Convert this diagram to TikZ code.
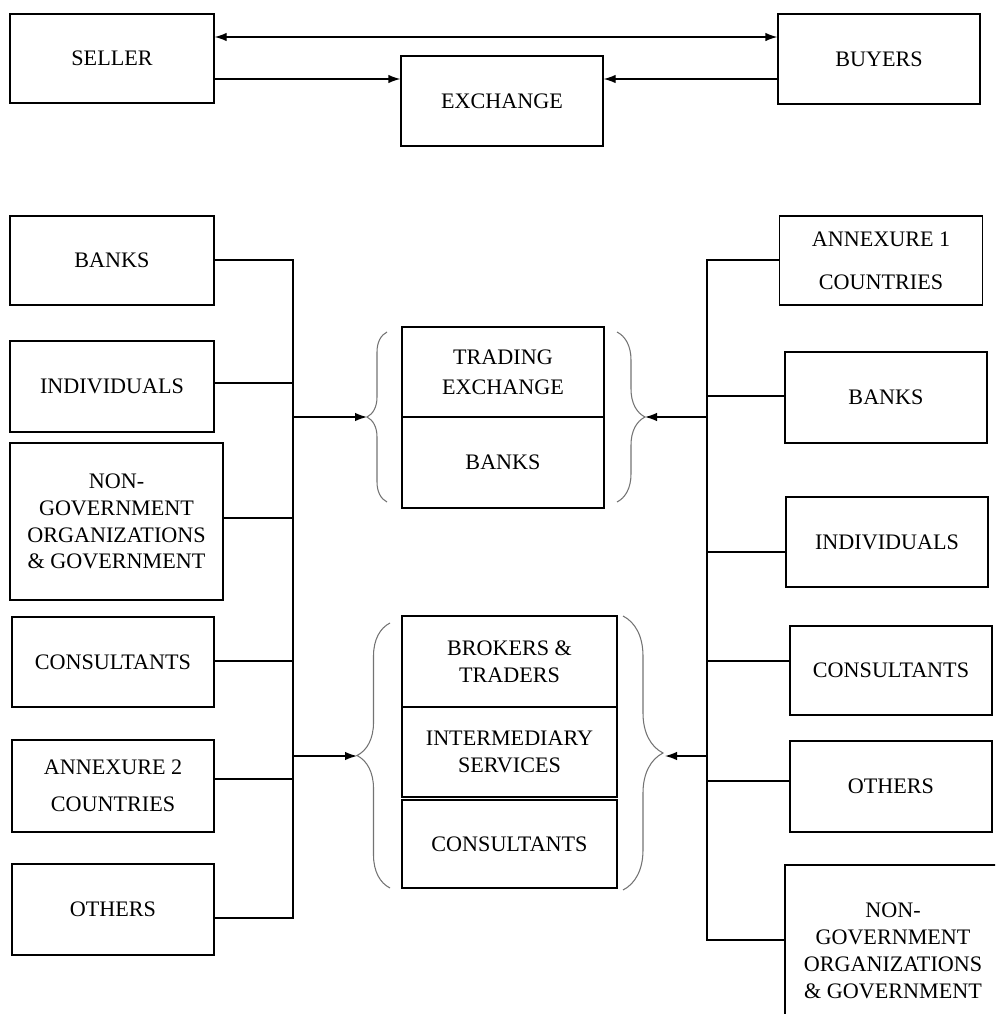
\documentclass[tikz,border=0pt]{standalone}
\usepackage{fontspec}
\setmainfont{Liberation Serif}
\usetikzlibrary{positioning}
\usetikzlibrary{arrows.meta}
\usetikzlibrary{decorations.pathreplacing}

\begin{document}
\begin{tikzpicture}[x=0.02cm,y=-0.02cm,
  box/.style={draw,line width=0.75pt,align=center,inner sep=0pt,font=\fontsize{12.6}{15.3}\selectfont},
  sz/.style 2 args={minimum width=#1*0.02cm,minimum height=#2*0.02cm},
  link/.style={line width=0.75pt},
  arr/.style={line width=0.75pt,-{Latex[length=2.4mm,width=1.7mm]}},
  curly/.style={draw=black!55,line width=0.6pt,decorate,decoration={brace,amplitude=#1}}]
\useasboundingbox (0,0) rectangle (995,1014);
\clip (0,0) rectangle (995,1014);

% top row
\node[box,sz={204}{89}] (seller) at (112,58.5) {SELLER};
\node[box,sz={202}{90}] (buyers) at (879,59) {BUYERS};
\node[box,sz={202}{90}] (exch) at (502,101) {EXCHANGE};
\coordinate (toprow) at (0,37);
\coordinate (exrow) at (0,79);
\draw[link,{Latex[length=2.4mm,width=1.7mm]}-{Latex[length=2.4mm,width=1.7mm]}] (seller.east |- toprow) -- (buyers.west |- toprow);
\draw[arr] (seller.east |- exrow) -- (exch.west |- exrow);
\draw[arr] (buyers.west |- exrow) -- (exch.east |- exrow);

% left column
\node[box,sz={204}{89}] (lbanks) at (112,260.5) {BANKS};
\node[box,sz={204}{91}] (lind) at (112,386.5) {INDIVIDUALS};
\node[box,sz={213}{157}] (lngo) at (116.5,521.5) {NON-\\GOVERNMENT\\ORGANIZATIONS\\\& GOVERNMENT};
\node[box,sz={202}{90}] (lcons) at (113,662) {CONSULTANTS};
\node[box,sz={202}{92}] (lann) at (113,786) {ANNEXURE 2\\[5.5pt]COUNTRIES};
\node[box,sz={202}{91}] (loth) at (113,909.5) {OTHERS};

% middle blocks
\node[box,sz={202}{90}] (tex) at (503,372) {TRADING\\[2pt]EXCHANGE};
\node[box,sz={202}{91}] (mbanks) at (503,462.5) {BANKS};
\node[box,sz={215}{91}] (brok) at (509.5,661.5) {BROKERS \&\\TRADERS};
\node[box,sz={215}{90}] (inter) at (509.5,752) {INTERMEDIARY\\SERVICES};
\node[box,sz={215}{88}] (mcons) at (509.5,844) {CONSULTANTS};

% right column
\node[box,sz={203}{89}] (rann) at (881,260.5) {ANNEXURE 1\\[9pt]COUNTRIES};
\node[box,sz={202}{91}] (rbanks) at (886,397.5) {BANKS};
\node[box,sz={202}{90}] (rind) at (887,542) {INDIVIDUALS};
\node[box,sz={202}{89}] (rcons) at (891,670.5) {CONSULTANTS};
\node[box,sz={202}{91}] (roth) at (891,786.5) {OTHERS};
\node[box,sz={216}{172}] (rngo) at (893,951) {NON-\\GOVERNMENT\\ORGANIZATIONS\\\& GOVERNMENT};

% braces
\draw[curly=0.4cm] (387,502) -- (387,332);
\draw[curly=0.66cm] (390,888) -- (390,623);
\draw[curly=0.56cm] (617,332) -- (617,502);
\draw[curly=0.8cm] (623,616) -- (623,890);
\coordinate (ltip1) at (367,417);
\coordinate (ltip2) at (357,756);
\coordinate (rtip1) at (645,417);
\coordinate (rtip2) at (665,756);

% left bus
\coordinate (lbt) at (293,260);
\coordinate (lbb) at (293,918);
\draw[link] (lbanks.east |- lbt) -- (lbt) -- (lbb) -- (loth.east |- lbb);
\draw[link] (lind.east |- 0,383) -- (lbt |- 0,383);
\draw[link] (lngo.east |- 0,518) -- (lbt |- 0,518);
\draw[link] (lcons.east |- 0,661) -- (lbt |- 0,661);
\draw[link] (lann.east |- 0,779) -- (lbt |- 0,779);
\draw[arr] (lbt |- ltip1) -- (ltip1);
\draw[arr] (lbt |- ltip2) -- (ltip2);

% right bus
\coordinate (rbt) at (707,260);
\coordinate (rbb) at (707,940);
\draw[link] (rann.west |- rbt) -- (rbt) -- (rbb) -- (rngo.west |- rbb);
\draw[link] (rbanks.west |- 0,396) -- (rbt |- 0,396);
\draw[link] (rind.west |- 0,552) -- (rbt |- 0,552);
\draw[link] (rcons.west |- 0,661) -- (rbt |- 0,661);
\draw[link] (roth.west |- 0,781) -- (rbt |- 0,781);
\draw[arr] (rbt |- rtip1) -- (rtip1);
\draw[arr] (rbt |- rtip2) -- (rtip2);

\end{tikzpicture}
\end{document}
